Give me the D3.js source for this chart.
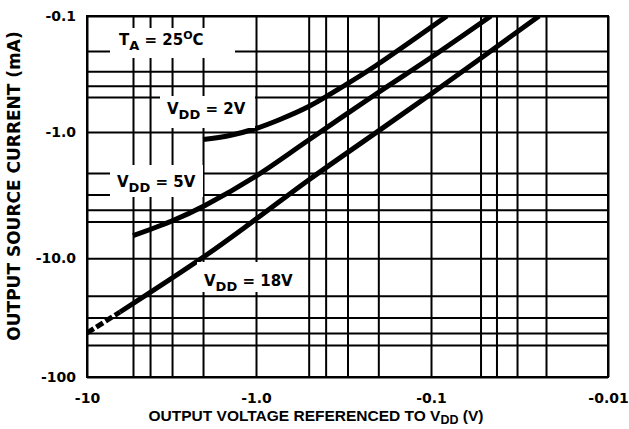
<!DOCTYPE html>
<html>
<head>
<meta charset="utf-8">
<script src="https://cdn.jsdelivr.net/npm/d3@7"></script>
<style>
  body { margin: 0; background: #fff; }
  svg { display: block; }
  .grid line { stroke: #000; stroke-width: 2; }
  .ticks text { font-family: "DejaVu Sans", sans-serif; font-weight: bold; font-size: 14px; fill: #000; }
  .lbl { font-family: "DejaVu Sans", sans-serif; font-weight: bold; font-size: 15px; fill: #000; }
</style>
</head>
<body>
<svg id="chart" width="629" height="429"></svg>
<script>
// voltage referenced to VDD (V) and source current (mA), magnitudes (axis shows them negative)
var vdd2Volts = [2.0, 1.41, 1.0, 0.73, 0.5, 0.306, 0.206, 0.080];
var vdd2Amps  = [1.135, 1.06, 0.933, 0.78, 0.603, 0.39, 0.267, 0.1];

var vdd5Volts = [5.0, 3.01, 1.95, 1.0, 0.5, 0.206, 0.1, 0.0432];
var vdd5Amps  = [6.53, 4.95, 3.69, 2.12, 1.145, 0.47, 0.228, 0.1];

var vdd18Volts = [10, 6.08, 1.95, 1.0, 0.5, 0.206, 0.1, 0.022];
var vdd18Amps  = [40.0, 27.1, 9.57, 4.77, 2.28, 1.01, 0.47, 0.1];
var vdd18Dashed = 2; // first points of the 18V curve are dashed

var gridVolts = [10, 5, 4, 3, 2, 1, 0.5, 0.4, 0.3, 0.2, 0.1, 0.05, 0.04, 0.03, 0.02, 0.01];
var gridAmps  = [0.1, 0.2, 0.3, 0.4, 0.5, 1, 2, 3, 4, 5, 10, 20, 30, 40, 50, 100];

var voltTicks = [10, 1, 0.1, 0.01];
var voltTickLabels = ["-10", "-1.0", "-0.1", "-0.01"];
var ampTicks = [0.1, 1, 10, 100];
var ampTickLabels = ["-0.1", "-1.0", "-10.0", "-100"];

var svg = d3.select("#chart"),
    margin = {top: 16, right: 21, bottom: 52, left: 87},
    width = +svg.attr("width") - margin.left - margin.right,
    height = +svg.attr("height") - margin.top - margin.bottom,
    g = svg.append("g").attr("transform", "translate(" + margin.left + "," + margin.top + ")");

// piecewise log scales, the printed grid is not quite even from decade to decade
var x = d3.scaleLog()
    .domain([10, 5, 1, 0.1, 0.02, 0.01])
    .range([0, 46, 169, 344, 459, width]);
var y = d3.scaleLog()
    .domain([0.1, 1, 2, 10, 50, 100])
    .range([0, 116, 157, 242.3, 329, height]);

// grid
var gx = g.append("g")
    .attr("class", "grid")
    .attr("transform", "translate(0," + height + ")")
    .call(d3.axisBottom(x).tickValues(gridVolts).tickSize(-height).tickFormat(""));
gx.select(".domain").remove();
var gy = g.append("g")
    .attr("class", "grid")
    .call(d3.axisLeft(y).tickValues(gridAmps).tickSize(-width).tickFormat(""));
gy.select(".domain").remove();

g.append("rect")
    .attr("width", width)
    .attr("height", height)
    .attr("fill", "none")
    .attr("stroke", "#000")
    .attr("stroke-width", 2);

// tick labels
var ax = g.append("g")
    .attr("class", "ticks")
    .attr("transform", "translate(0," + height + ")")
    .call(d3.axisBottom(x).tickValues(voltTicks).tickSize(0).tickPadding(16)
      .tickFormat(function(d, i) { return voltTickLabels[i]; }));
ax.select(".domain").remove();
var ay = g.append("g")
    .attr("class", "ticks")
    .call(d3.axisLeft(y).tickValues(ampTicks).tickSize(0).tickPadding(11)
      .tickFormat(function(d, i) { return ampTickLabels[i]; }));
ay.select(".domain").remove();
svg.selectAll(".ticks").attr("font-family", null).attr("font-size", null);

// curves
g.append("defs").append("clipPath")
    .attr("id", "clip")
  .append("rect")
    .attr("width", width)
    .attr("height", height);

var line = d3.line()
    .x(function(d) { return x(d[0]); })
    .y(function(d) { return y(d[1]); })
    .curve(d3.curveCatmullRom.alpha(0.5));

function pairs(vs, is) {
  return vs.map(function(v, i) { return [v, is[i]]; });
}

var curves = g.append("g").attr("clip-path", "url(#clip)");
var p18 = pairs(vdd18Volts, vdd18Amps);
[pairs(vdd2Volts, vdd2Amps), pairs(vdd5Volts, vdd5Amps), p18.slice(vdd18Dashed - 1)].forEach(function(pts) {
  curves.append("path")
      .datum(pts)
      .attr("d", line)
      .attr("fill", "none")
      .attr("stroke", "#000")
      .attr("stroke-width", 5);
});
curves.append("path")
    .datum(p18.slice(0, vdd18Dashed))
    .attr("d", line)
    .attr("fill", "none")
    .attr("stroke", "#000")
    .attr("stroke-width", 5)
    .attr("stroke-dasharray", "8,3");

// labels with white boxes over the grid
var labels = [
  {box: [110, 28, 125, 30], x: 119, y: 45, parts: [["T"], ["A", "sub"], [" = 25"], ["O", "sup"], ["C"]]},
  {box: [160, 96, 95, 32], x: 167, y: 113.5, parts: [["V"], ["DD", "sub"], [" = 2V"]]},
  {box: [110, 165, 93, 32], x: 117, y: 187, parts: [["V"], ["DD", "sub"], [" = 5V"]]},
  {box: [197, 262, 106, 30], x: 204, y: 286, parts: [["V"], ["DD", "sub"], [" = 18V"]]}
];

labels.forEach(function(l) {
  svg.append("rect")
      .attr("x", l.box[0]).attr("y", l.box[1])
      .attr("width", l.box[2]).attr("height", l.box[3])
      .attr("fill", "#fff");
  var t = svg.append("text").attr("class", "lbl").attr("x", l.x).attr("y", l.y);
  var shift = 0;
  l.parts.forEach(function(p) {
    var s = t.append("tspan").text(p[0]);
    var want = p[1] == "sub" ? 5 : p[1] == "sup" ? -6 : 0;
    s.attr("dy", want - shift);
    shift = want;
    if (p[1] == "sub") s.attr("font-size", 13);
    if (p[1] == "sup") s.attr("font-size", 11);
  });
});

// axis titles
var xt = svg.append("text")
    .attr("x", 316)
    .attr("y", 421)
    .attr("text-anchor", "middle")
    .style("font-family", "'Liberation Sans', Arial, sans-serif")
    .style("font-weight", "bold")
    .style("font-size", "15.5px");
xt.append("tspan").text("OUTPUT VOLTAGE REFERENCED TO V");
xt.append("tspan").text("DD").attr("dy", 3).attr("font-size", 12.5);
xt.append("tspan").text(" (V)").attr("dy", -3);

svg.append("text")
    .attr("transform", "rotate(-90)")
    .attr("x", -186)
    .attr("y", 20)
    .attr("text-anchor", "middle")
    .style("font-family", "'DejaVu Sans', sans-serif")
    .style("font-weight", "bold")
    .style("font-size", "17px")
    .text("OUTPUT SOURCE CURRENT (mA)");
</script>
</body>
</html>
